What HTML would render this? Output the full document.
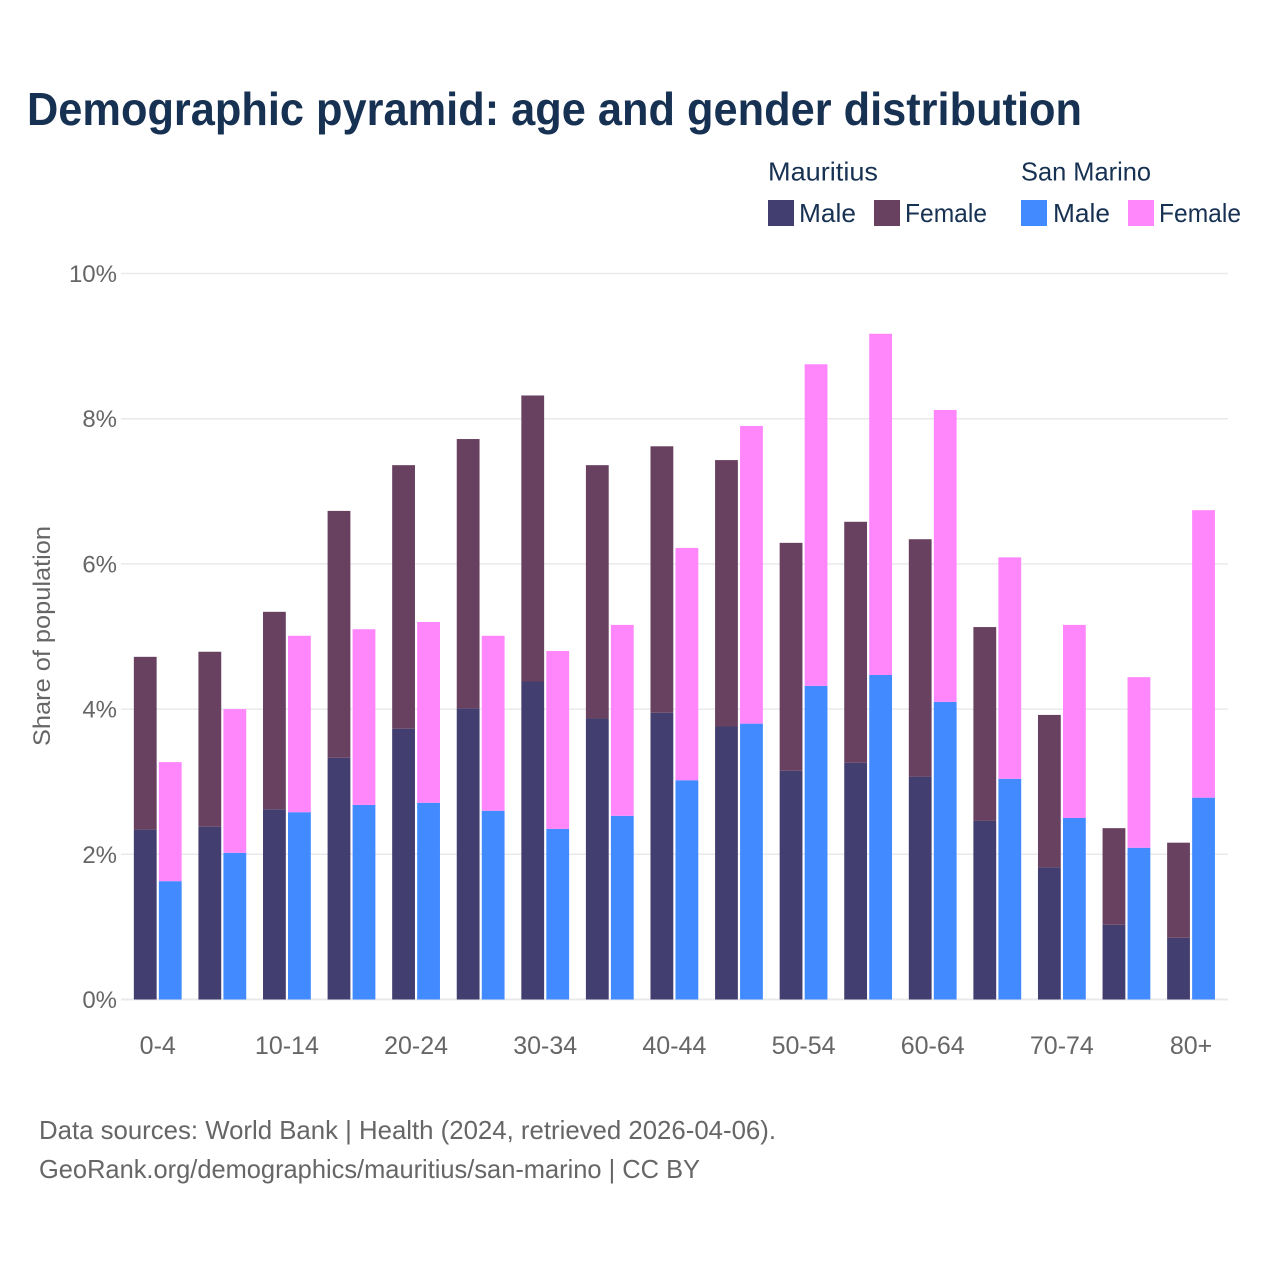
<!DOCTYPE html>
<html lang="en">
<head>
<meta charset="utf-8">
<title>Demographic pyramid: age and gender distribution</title>
<style>
html,body{margin:0;padding:0;background:#fff;}
svg{display:block;font-family:"Liberation Sans",sans-serif;}
</style>
</head>
<body>
<svg id="chart" width="1280" height="1280" viewBox="0 0 1280 1280" xmlns="http://www.w3.org/2000/svg">
  <rect width="1280" height="1280" fill="#ffffff"/>
  <text x="27" y="125" font-size="46" font-weight="700" fill="#173153" textLength="1055" lengthAdjust="spacingAndGlyphs">Demographic pyramid: age and gender distribution</text>

  <g font-size="26" fill="#173153">
    <text x="768" y="180.5" textLength="110" lengthAdjust="spacingAndGlyphs">Mauritius</text>
    <text x="1021" y="180.5" textLength="130" lengthAdjust="spacingAndGlyphs">San Marino</text>
    <rect x="768" y="200" width="26" height="26" fill="#433e70"/>
    <text x="799" y="222" textLength="57" lengthAdjust="spacingAndGlyphs">Male</text>
    <rect x="874" y="200" width="26" height="26" fill="#684160"/>
    <text x="905" y="222" textLength="82" lengthAdjust="spacingAndGlyphs">Female</text>
    <rect x="1021" y="200" width="26" height="26" fill="#418aff"/>
    <text x="1053" y="222" textLength="57" lengthAdjust="spacingAndGlyphs">Male</text>
    <rect x="1128" y="200" width="26" height="26" fill="#ff86fb"/>
    <text x="1159" y="222" textLength="82" lengthAdjust="spacingAndGlyphs">Female</text>
  </g>

  <g id="grid"></g>
  <g id="bars"></g>
  <g id="xlabels"></g>

  <text transform="translate(50,636) rotate(-90)" text-anchor="middle" font-size="24" fill="#666666" textLength="220" lengthAdjust="spacingAndGlyphs">Share of population</text>

  <g font-size="26" fill="#666666">
    <text x="39" y="1139" textLength="737" lengthAdjust="spacingAndGlyphs">Data sources: World Bank | Health (2024, retrieved 2026-04-06).</text>
    <text x="39" y="1178" textLength="661" lengthAdjust="spacingAndGlyphs">GeoRank.org/demographics/mauritius/san-marino | CC BY</text>
  </g>
</svg>
<script>
var categories = ["0-4","5-9","10-14","15-19","20-24","25-29","30-34","35-39","40-44","45-49","50-54","55-59","60-64","65-69","70-74","75-79","80+"];
var tickCategories = ["0-4","10-14","20-24","30-34","40-44","50-54","60-64","70-74","80+"];
var yTicks = [0,2,4,6,8,10];
var mauritiusMale = [2.34,2.38,2.62,3.33,3.73,4.01,4.38,3.87,3.95,3.76,3.15,3.26,3.07,2.46,1.82,1.03,0.85];
var mauritiusFemale = [2.38,2.41,2.72,3.40,3.63,3.71,3.94,3.49,3.67,3.67,3.14,3.32,3.27,2.67,2.10,1.33,1.31];
var sanMarinoMale = [1.63,2.02,2.58,2.68,2.71,2.60,2.35,2.53,3.02,3.80,4.32,4.47,4.10,3.04,2.50,2.09,2.78];
var sanMarinoFemale = [1.64,1.98,2.43,2.42,2.49,2.41,2.45,2.63,3.20,4.10,4.43,4.70,4.02,3.05,2.66,2.35,3.96];

var NS = "http://www.w3.org/2000/svg";
function yScale(v){ return 999.5 - v * 72.6; }
function bandCenter(i){ return 157.75 + i * 64.58; }
var barW = 22.8, barGap = 2.2;

function makeRect(parent, x, y0, y1, fill){
  var r = document.createElementNS(NS, "rect");
  r.setAttribute("x", x.toFixed(2));
  r.setAttribute("y", y1.toFixed(2));
  r.setAttribute("width", barW);
  r.setAttribute("height", (y0 - y1).toFixed(2));
  r.setAttribute("fill", fill);
  parent.appendChild(r);
  return r;
}

var grid = document.getElementById("grid");


yTicks.forEach(function(t){
  var l = document.createElementNS(NS, "line");
  l.setAttribute("x1", 121);
  l.setAttribute("x2", 1228);
  l.setAttribute("y1", yScale(t));
  l.setAttribute("y2", yScale(t));
  l.setAttribute("stroke", "#e9e9eb");
  l.setAttribute("stroke-width", t === 0 ? 2 : 1.5);
  
  
  grid.appendChild(l);
  var tx = document.createElementNS(NS, "text");
  tx.setAttribute("x", 117);
  tx.setAttribute("y", yScale(t) + 8.5);
  tx.setAttribute("text-anchor", "end");
  tx.setAttribute("font-size", 24);
  tx.setAttribute("fill", "#666666");
  
  
  tx.textContent = t + "%";
  grid.appendChild(tx);
});

var bars = document.getElementById("bars");


categories.forEach(function(c, i){
  var cx = bandCenter(i);
  var leftX = cx - barGap / 2 - barW;
  var rightX = cx + barGap / 2;
  var a = yScale(mauritiusMale[i]);
  var b = yScale(mauritiusMale[i] + mauritiusFemale[i]);
  var m1 = makeRect(bars, leftX, yScale(0), a, "#433e70");
  
  
  var m2 = makeRect(bars, leftX, a, b, "#684160");
  
  
  var d = yScale(sanMarinoMale[i]);
  var e = yScale(sanMarinoMale[i] + sanMarinoFemale[i]);
  var s1 = makeRect(bars, rightX, yScale(0), d, "#418aff");
  
  
  var s2 = makeRect(bars, rightX, d, e, "#ff86fb");
  
  
});

var xl = document.getElementById("xlabels");


tickCategories.forEach(function(c){
  var t = document.createElementNS(NS, "text");
  t.setAttribute("x", bandCenter(categories.indexOf(c)));
  t.setAttribute("y", 1054);
  t.setAttribute("text-anchor", "middle");
  t.setAttribute("font-size", 25);
  t.setAttribute("fill", "#666666");
  
  
  t.textContent = c;
  xl.appendChild(t);
});
</script>
</body>
</html>
